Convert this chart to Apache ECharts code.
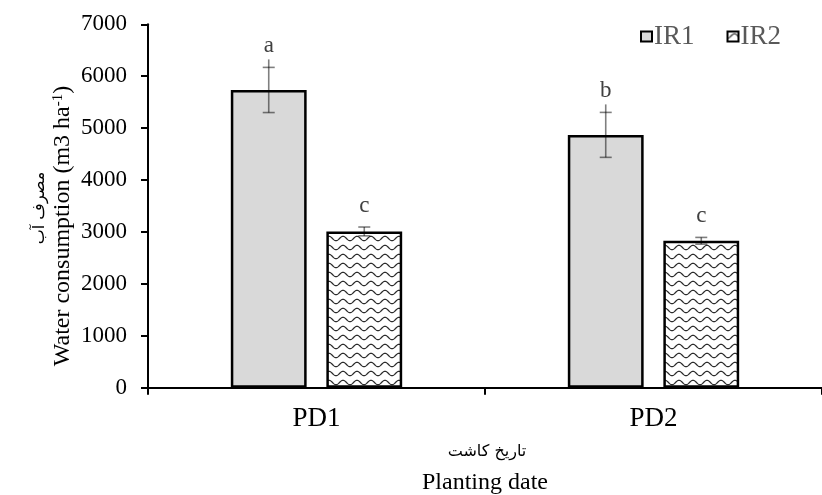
<!DOCTYPE html>
<html>
<head>
<meta charset="utf-8">
<script src="https://cdn.jsdelivr.net/npm/echarts@6/dist/echarts.min.js"></script>
<style>
  html, body { margin: 0; padding: 0; background: #fff; }
  #main { width: 822px; height: 495px; }
</style>
</head>
<body>
<div id="main"></div>
<script>
// data
let categories = ['PD1', 'PD2'];
let seriesNames = ['IR1', 'IR2'];
let ir1Values = [5735, 4870];
let ir2Values = [3010, 2830];
let ir1Errors = [435, 433];
let ir2Errors = [85, 65];
let ir1Letters = ['a', 'b'];
let ir2Letters = ['c', 'c'];
let yTicks = [0, 1000, 2000, 3000, 4000, 5000, 6000, 7000];

const SERIF = '"Liberation Serif", "DejaVu Serif", serif';
const ARABIC = '"DejaVu Sans", "Noto Sans", sans-serif';

// wavy hatch for IR2
function makeWave() {
    let c = document.createElement('canvas');
    c.width = 14;
    c.height = 9;
    let ctx = c.getContext('2d');
    ctx.fillStyle = '#fff';
    ctx.fillRect(0, 0, 14, 9);
    ctx.strokeStyle = '#2b2b2b';
    ctx.lineWidth = 1.2;
    ctx.beginPath();
    for (let x = -1; x <= 15; x += 0.5) {
        let y = 4.5 + 2.2 * Math.cos((x / 14) * Math.PI * 2);
        if (x === -1) ctx.moveTo(x, y); else ctx.lineTo(x, y);
    }
    ctx.stroke();
    return c;
}
let wave = makeWave();

let barWidthFrac = 0.225;
let barGapFrac = 0.26;

function errorItem(offsetSign, values, errors, letters) {
    return function(params, api) {
        let i = params.dataIndex;
        let catW = api.size([1, 0])[0];
        let bw = catW * barWidthFrac;
        let off = offsetSign * (bw + bw * barGapFrac) / 2;
        let center = api.coord([i, values[i]]);
        let x = center[0] + off;
        let top = api.coord([i, values[i] + errors[i]])[1];
        let bot = api.coord([i, values[i] - errors[i]])[1];
        // long bars: stem runs a little past the upper cap, as in the figure
        let stemTop = (bot - top) > 30 ? top - 8 : top;
        let lineStyle = { stroke: 'rgba(0,0,0,0.5)', lineWidth: 1.6 };
        return {
            type: 'group',
            children: [
                { type: 'line', shape: { x1: x, y1: stemTop, x2: x, y2: bot }, style: lineStyle },
                { type: 'line', shape: { x1: x - 6, y1: top, x2: x + 6, y2: top }, style: lineStyle },
                { type: 'line', shape: { x1: x - 6, y1: bot, x2: x + 6, y2: bot }, style: lineStyle },
                {
                    type: 'text',
                    style: {
                        x: x, y: top - 21, text: letters[i],
                        font: '23px ' + SERIF, fill: '#404040',
                        align: 'center', verticalAlign: 'middle'
                    }
                }
            ]
        };
    };
}

let myChart = echarts.init(document.getElementById('main'));

let option = {
    animation: false,
    backgroundColor: '#fff',
    textStyle: { fontFamily: SERIF },
    grid: { left: 148, right: -9, top: 24.3, bottom: 107.3, containLabel: false },
    legend: {
        data: seriesNames,
        right: 36,
        top: 18,
        icon: 'rect',
        itemWidth: 11,
        itemHeight: 10,
        itemGap: 32,
        textStyle: { color: '#595959', fontSize: 27, fontFamily: SERIF, padding: [0, 0, 0, -3] }
    },
    xAxis: {
        type: 'category',
        data: categories,
        axisLine: { lineStyle: { color: '#000', width: 2 } },
        axisTick: { show: true, length: 7, lineStyle: { color: '#000', width: 2 } },
        axisLabel: { color: '#000', fontSize: 27, fontFamily: SERIF, margin: 18 }
    },
    yAxis: {
        type: 'value',
        min: yTicks[0],
        max: yTicks[yTicks.length - 1],
        interval: 1000,
        axisLine: { show: true, lineStyle: { color: '#000', width: 2 } },
        axisTick: { show: true, length: 7, lineStyle: { color: '#000', width: 2 } },
        axisLabel: {
            color: '#000', fontSize: 23, fontFamily: SERIF, margin: 21,
            formatter: function(v) { return String(v); }
        },
        splitLine: { show: false }
    },
    series: [
        {
            name: 'IR1',
            type: 'bar',
            data: ir1Values,
            barWidth: (barWidthFrac * 100) + '%',
            barGap: (barGapFrac * 100) + '%',
            itemStyle: { color: '#d9d9d9', borderColor: '#000', borderWidth: 2.5 }
        },
        {
            name: 'IR2',
            type: 'bar',
            data: ir2Values,
            barWidth: (barWidthFrac * 100) + '%',
            itemStyle: { color: { image: wave, repeat: 'repeat' }, borderColor: '#000', borderWidth: 2.5 }
        },
        {
            type: 'custom',
            data: ir1Values.map((v, i) => [i, v]),
            renderItem: errorItem(-1, ir1Values, ir1Errors, ir1Letters),
            z: 5,
            silent: true
        },
        {
            type: 'custom',
            data: ir2Values.map((v, i) => [i, v]),
            renderItem: errorItem(1, ir2Values, ir2Errors, ir2Letters),
            z: 5,
            silent: true
        }
    ],
    graphic: [
        {
            type: 'text', x: 40, y: 208, rotation: Math.PI / 2,
            style: { text: 'مصرف آب', font: '16px ' + ARABIC, fill: '#000', align: 'center', verticalAlign: 'middle' }
        },
        {
            type: 'text', x: 63, y: 226, rotation: Math.PI / 2,
            style: {
                text: '{a|Water consumption (m3 ha}{s|-1}{a|)}',
                align: 'center', verticalAlign: 'middle',
                rich: {
                    a: { fontSize: 24, fontFamily: SERIF, color: '#000' },
                    s: { fontSize: 15, fontFamily: SERIF, color: '#000', verticalAlign: 'top', padding: [0, 0, 9, 0] }
                }
            }
        },
        {
            type: 'text', x: 487, y: 452,
            style: { text: 'تاریخ کاشت', font: '16px ' + ARABIC, fill: '#000', align: 'center', verticalAlign: 'middle' }
        },
        {
            type: 'text', x: 485, y: 483,
            style: { text: 'Planting date', font: '24px ' + SERIF, fill: '#000', align: 'center', verticalAlign: 'middle' }
        }
    ]
};

myChart.setOption(option);

window.addEventListener('resize', function() {
    myChart.resize();
});
</script>
</body>
</html>
